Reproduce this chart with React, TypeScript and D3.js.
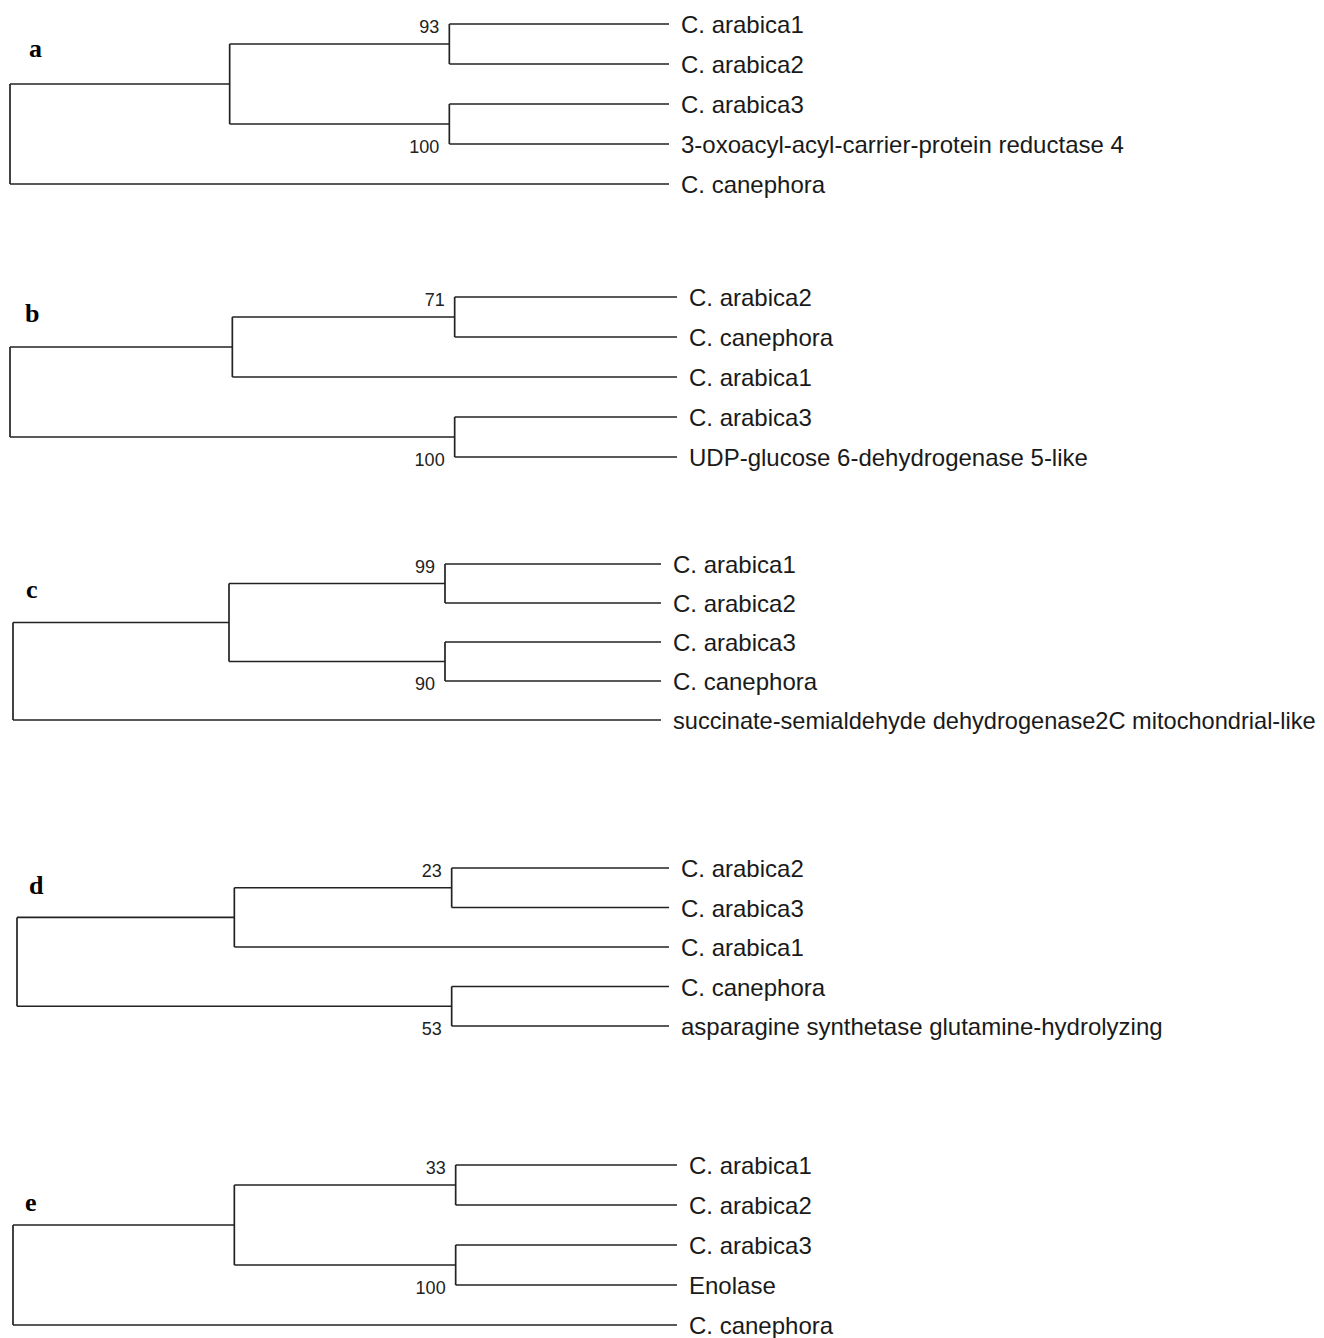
import React, { useLayoutEffect, useRef } from "react";
import * as d3 from "d3";

// Trees (cladograms), each with bootstrap support on the inner clades
const treeA = {
  children: [
    {
      children: [
        { support: 93, children: [{ name: "C. arabica1" }, { name: "C. arabica2" }] },
        { support: 100, children: [{ name: "C. arabica3" }, { name: "3-oxoacyl-acyl-carrier-protein reductase 4" }] },
      ],
    },
    { name: "C. canephora" },
  ],
};

const treeB = {
  children: [
    {
      children: [
        { support: 71, children: [{ name: "C. arabica2" }, { name: "C. canephora" }] },
        { name: "C. arabica1" },
      ],
    },
    { support: 100, children: [{ name: "C. arabica3" }, { name: "UDP-glucose 6-dehydrogenase 5-like" }] },
  ],
};

const treeC = {
  children: [
    {
      children: [
        { support: 99, children: [{ name: "C. arabica1" }, { name: "C. arabica2" }] },
        { support: 90, children: [{ name: "C. arabica3" }, { name: "C. canephora" }] },
      ],
    },
    { name: "succinate-semialdehyde dehydrogenase2C mitochondrial-like" },
  ],
};

const treeD = {
  children: [
    {
      children: [
        { support: 23, children: [{ name: "C. arabica2" }, { name: "C. arabica3" }] },
        { name: "C. arabica1" },
      ],
    },
    { support: 53, children: [{ name: "C. canephora" }, { name: "asparagine synthetase glutamine-hydrolyzing" }] },
  ],
};

const treeE = {
  children: [
    {
      children: [
        { support: 33, children: [{ name: "C. arabica1" }, { name: "C. arabica2" }] },
        { support: 100, children: [{ name: "C. arabica3" }, { name: "Enolase" }] },
      ],
    },
    { name: "C. canephora" },
  ],
};

const panelLetters = ["a", "b", "c", "d", "e"];
const trees = [treeA, treeB, treeC, treeD, treeE];

// layout of each panel: root x, leaf tip x, first leaf y, leaf spacing, letter position
const panels = [
  { x0: 10, x1: 669, y0: 24, step: 40, lx: 29, ly: 57 },
  { x0: 10, x1: 677, y0: 297, step: 40, lx: 25, ly: 322 },
  { x0: 13, x1: 661, y0: 564, step: 39, lx: 26, ly: 598 },
  { x0: 17, x1: 669, y0: 868, step: 39.5, lx: 29, ly: 894 },
  { x0: 13, x1: 677, y0: 1165, step: 40, lx: 25, ly: 1211 },
];

const W = 1324;
const H = 1338;
const LINE = "#222";
const LEAF_FONT = 24;

const Tree = ({ data, p, letter }) => {
  const root = d3.hierarchy(data);
  const nLeaves = root.leaves().length;
  d3.cluster().separation(() => 1).size([nLeaves * p.step, p.x1 - p.x0])(root);

  const X = (d) => p.x0 + d.y;
  const Y = (d) => p.y0 - p.step / 2 + d.x;

  const inner = root.descendants().filter((d) => d.children);

  return (
    <g>
      <text x={p.lx} y={p.ly} fontFamily="'Liberation Serif', serif" fontWeight="bold" fontSize={26} fill="#000">
        {letter}
      </text>
      {inner.map((d, i) => {
        const ys = d.children.map(Y);
        return (
          <g key={i}>
            <line x1={X(d)} x2={X(d)} y1={d3.min(ys)} y2={d3.max(ys)} stroke={LINE} strokeWidth={1.7} />
            {d.children.map((c, j) => (
              <line key={j} x1={X(d)} x2={X(c)} y1={Y(c)} y2={Y(c)} stroke={LINE} strokeWidth={1.7} />
            ))}
            {d.data.support != null && (
              <text
                x={X(d) - 10}
                y={(d.parent && Y(d) < Y(d.parent) ? d3.min(ys) : d3.max(ys)) + 9}
                textAnchor="end"
                fontFamily="'Liberation Sans', Arial, sans-serif"
                fontSize={18}
                fill="#222"
              >
                {d.data.support}
              </text>
            )}
          </g>
        );
      })}
      {root.leaves().map((d, i) => (
        <text
          key={i}
          className="leaf"
          x={X(d) + 12}
          y={Y(d) + 9}
          fontFamily="'Liberation Sans', Arial, sans-serif"
          fontSize={LEAF_FONT}
          fill="#1a1a1a"
        >
          {d.data.name}
        </text>
      ))}
    </g>
  );
};

export default function App() {
  const svgRef = useRef(null);

  // shrink any leaf label that would run past the right edge
  useLayoutEffect(() => {
    d3.select(svgRef.current)
      .selectAll("text.leaf")
      .each(function () {
        const x = +this.getAttribute("x");
        const w = this.getComputedTextLength();
        const avail = W - 7 - x;
        if (w > avail) {
          d3.select(this).attr("font-size", Math.floor(LEAF_FONT * (avail / w) * 10) / 10);
        }
      });
  });

  return (
    <svg ref={svgRef} width={W} height={H} style={{ position: "absolute", left: 0, top: 0, background: "#fff" }}>
      <rect width={W} height={H} fill="#fff" />
      {trees.map((t, i) => (
        <Tree key={i} data={t} p={panels[i]} letter={panelLetters[i]} />
      ))}
    </svg>
  );
}
